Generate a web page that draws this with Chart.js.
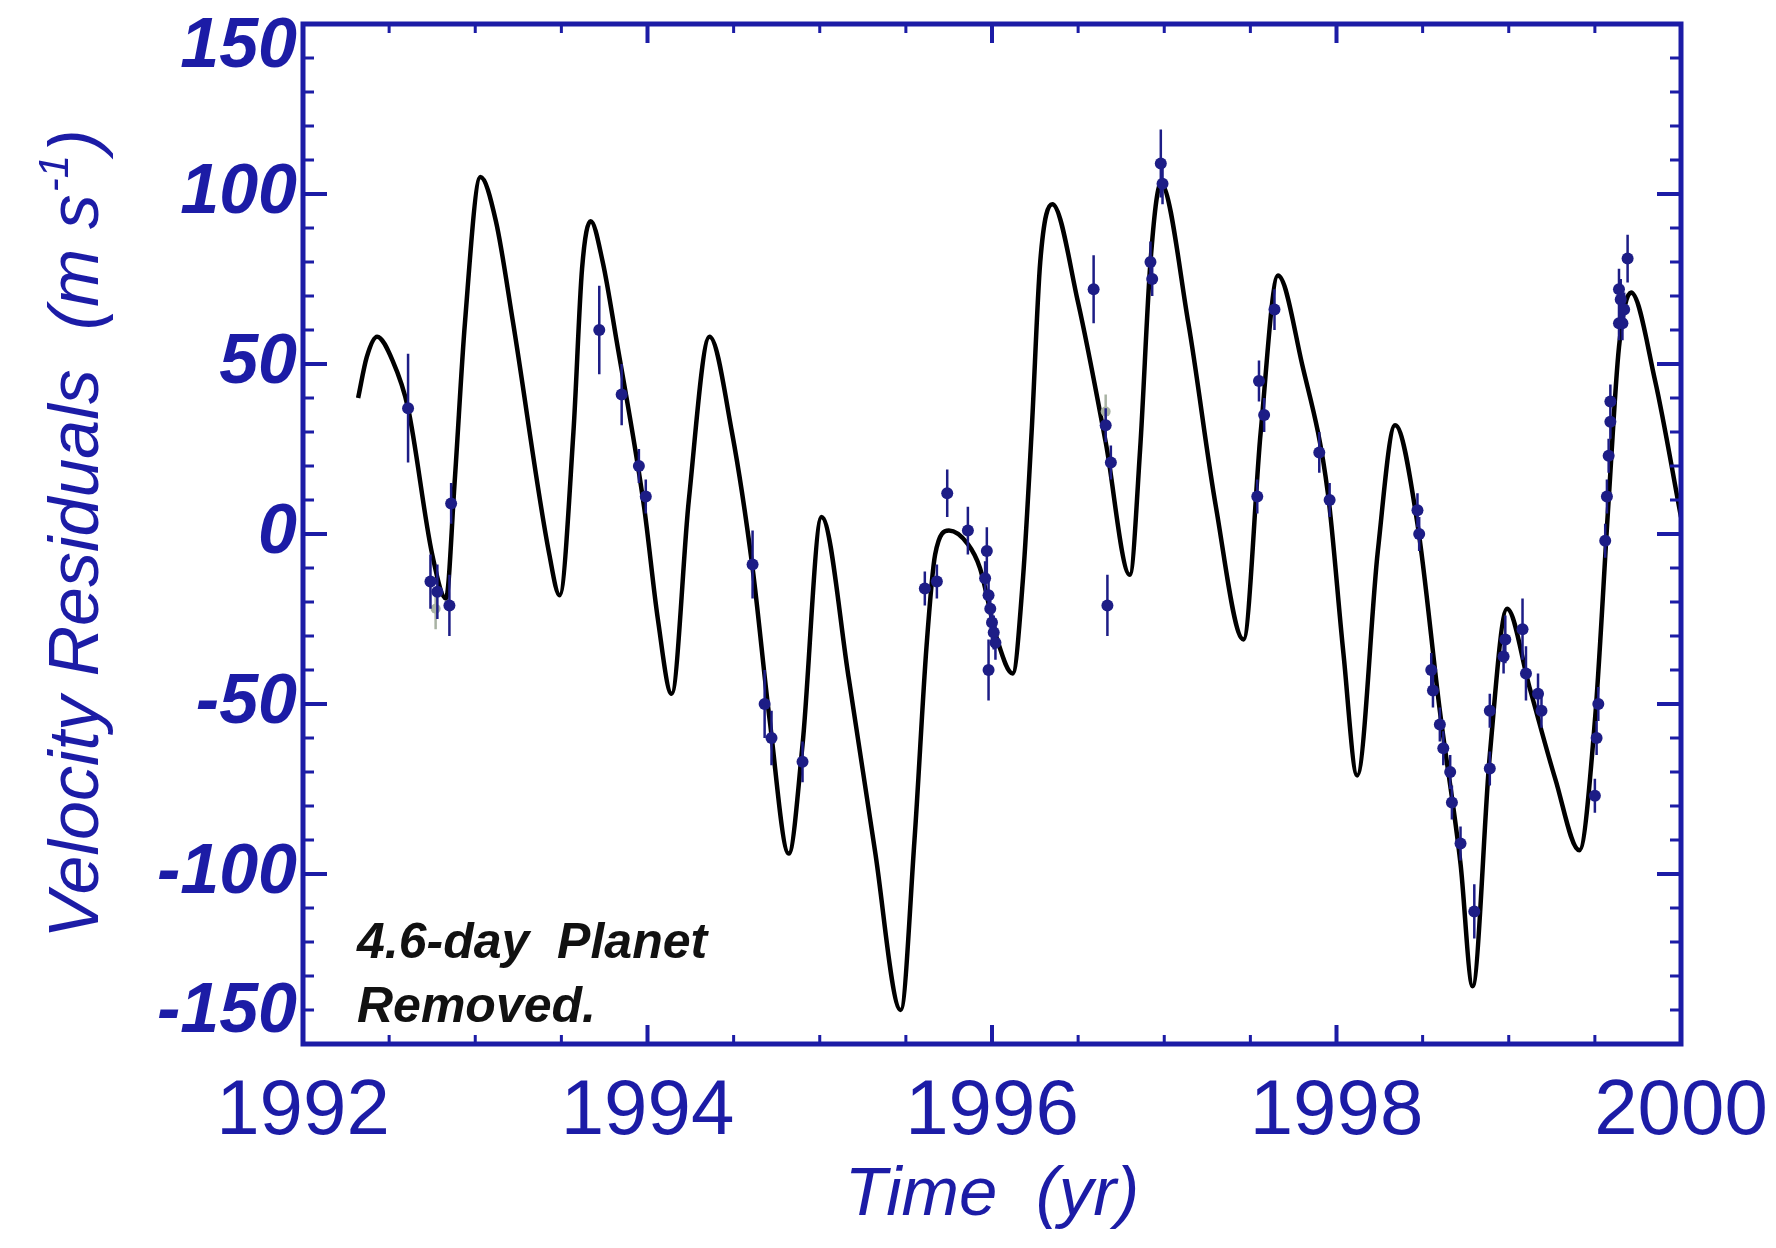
<!DOCTYPE html>
<html>
<head>
<meta charset="utf-8">
<title>Velocity residuals</title>
<script src="https://cdn.jsdelivr.net/npm/chart.js@4.4.1/dist/chart.umd.min.js"></script>
<style>
    html, body { margin: 0; padding: 0; background: #ffffff; }
    #chartWrap { width: 1776px; height: 1248px; }
</style>
</head>
<body>
<div id="chartWrap"><canvas id="chartResiduals" width="1776" height="1248"></canvas></div>
<script>
// fitted orbit curve (two remaining planets)
var fitTime = [1992.32, 1992.37, 1992.43, 1992.52, 1992.61, 1992.75, 1992.83, 1992.88, 1992.94, 1993.03,
    1993.12, 1993.22, 1993.43, 1993.49, 1993.57, 1993.62, 1993.67, 1993.74, 1993.82, 1993.98,
    1994.06, 1994.14, 1994.24, 1994.36, 1994.49, 1994.61, 1994.71, 1994.82, 1994.90, 1995.01,
    1995.17, 1995.32, 1995.47, 1995.55, 1995.62, 1995.67, 1995.75, 1995.86, 1995.93, 1996.03,
    1996.12, 1996.18, 1996.23, 1996.28, 1996.35, 1996.50, 1996.66, 1996.80, 1996.86, 1996.92,
    1996.98, 1997.14, 1997.30, 1997.46, 1997.56, 1997.66, 1997.80, 1997.95, 1998.04, 1998.12,
    1998.24, 1998.34, 1998.47, 1998.60, 1998.72, 1998.79, 1998.89, 1998.99, 1999.12, 1999.27,
    1999.41, 1999.50, 1999.58, 1999.64, 1999.71, 1999.85, 2000.00];
var fitVel = [40, 52, 58, 51, 37, -6, -19, 15, 62, 105,
    92, 62, -6, -18, 30, 78, 92, 80, 57, 8,
    -25, -47, 10, 58, 30, -10, -55, -94, -62, 5,
    -43, -93, -140, -90, -33, -6, 1, -3, -10, -31,
    -41, -13, 30, 80, 97, 68, 27, -12, 25, 80,
    103, 62, 8, -31, 30, 76, 50, 12, -35, -71,
    -5, 32, 3, -52, -97, -133, -65, -22, -45, -72,
    -93, -55, 10, 55, 71, 45, 5];

// measured residuals with 1-sigma errors
var obsTime = [1992.61, 1992.74, 1992.78, 1992.85, 1992.86, 1993.72, 1993.85, 1993.95, 1993.99, 1994.61,
    1994.68, 1994.72, 1994.90, 1995.61, 1995.68, 1995.74, 1995.86, 1995.97, 1995.96, 1995.98,
    1995.99, 1996.00, 1996.01, 1996.02, 1995.98, 1996.59, 1996.66, 1996.69, 1996.67, 1996.98,
    1996.99, 1996.92, 1996.93, 1997.54, 1997.55, 1997.58, 1997.64, 1997.90, 1997.96, 1998.47,
    1998.48, 1998.55, 1998.56, 1998.60, 1998.62, 1998.66, 1998.67, 1998.72, 1998.80, 1998.89,
    1998.89, 1998.97, 1998.98, 1999.08, 1999.10, 1999.17, 1999.19, 1999.50, 1999.51, 1999.52,
    1999.56, 1999.57, 1999.58, 1999.59, 1999.59, 1999.64, 1999.65, 1999.64, 1999.69, 1999.67,
    1999.66];
var obsVel = [37, -14, -17, -21, 9, 60, 41, 20, 11, -9,
    -50, -60, -67, -16, -14, 12, 1, -5, -13, -18,
    -22, -26, -29, -32, -40, 72, 32, 21, -21, 109,
    103, 80, 75, 11, 45, 35, 66, 24, 10, 7,
    0, -40, -46, -56, -63, -70, -79, -91, -111, -69,
    -52, -36, -31, -28, -41, -47, -52, -77, -60, -50,
    -2, 11, 23, 33, 39, 62, 69, 72, 81, 66,
    62];
var obsErr = [16, 8, 8, 9, 6, 13, 9, 5, 5, 10,
    10, 8, 6, 5, 5, 7, 7, 7, 5, 5,
    5, 5, 5, 5, 9, 10, 5, 5, 9, 10,
    6, 6, 5, 5, 6, 5, 6, 6, 5, 5,
    5, 5, 5, 5, 5, 5, 5, 5, 8, 5,
    5, 5, 7, 9, 8, 6, 5, 5, 5, 5,
    5, 5, 5, 5, 5, 5, 6, 6, 7, 5,
    5];

// a few points from the second (grey) set
var altTime = [1992.77, 1996.66];
var altVel = [-22, 36];
var altErr = [6, 5];

var xTickYears = [1992, 1994, 1996, 1998, 2000];
var xMinorStep = 0.5;
var yTickLabels = [150, 100, 50, 0, -50, -100, -150];
var yMinorStep = 10;

var axisBlue = '#1c1ca6';
var dotBlue = '#1d1d86';
var altGrey = '#a9b3a4';
var fontFamily = '"Liberation Sans", Arial, Helvetica, sans-serif';

var toPoints = function (xs, ys) {
    var pts = [];
    for (var i = 0; i < xs.length; i++) {
        pts.push({x: xs[i], y: ys[i]});
    }
    return pts;
};

// each bar is two points followed by a gap
var toErrorBars = function (xs, ys, es) {
    var pts = [];
    for (var i = 0; i < xs.length; i++) {
        pts.push({x: xs[i], y: ys[i] - es[i]});
        pts.push({x: xs[i], y: ys[i] + es[i]});
        pts.push({x: xs[i], y: null});
    }
    return pts;
};

var plotFrame = {
    id: 'plotFrame',
    afterDatasetsDraw: function (chart) {
        var ctx = chart.ctx;
        var area = chart.chartArea;
        var sx = chart.scales.x;
        var sy = chart.scales.y;
        var i, n, v, p, len, major;

        ctx.save();
        ctx.strokeStyle = axisBlue;
        ctx.lineCap = 'butt';

        // ticks pointing inward, top and bottom
        n = Math.round((sx.max - sx.min) / xMinorStep);
        for (i = 0; i <= n; i++) {
            v = sx.min + i * xMinorStep;
            p = sx.getPixelForValue(v);
            major = xTickYears.indexOf(v) !== -1;
            len = major ? 19 : 9;
            ctx.lineWidth = major ? 4 : 3;
            ctx.beginPath();
            ctx.moveTo(p, area.bottom);
            ctx.lineTo(p, area.bottom - len);
            ctx.moveTo(p, area.top);
            ctx.lineTo(p, area.top + len);
            ctx.stroke();
        }

        // left and right
        n = Math.round((sy.max - sy.min) / yMinorStep);
        for (i = 0; i <= n; i++) {
            v = sy.min + i * yMinorStep;
            p = sy.getPixelForValue(v);
            major = yTickLabels.indexOf(v) !== -1;
            len = major ? 24 : 11;
            ctx.lineWidth = major ? 4 : 3;
            ctx.beginPath();
            ctx.moveTo(area.left, p);
            ctx.lineTo(area.left + len, p);
            ctx.moveTo(area.right, p);
            ctx.lineTo(area.right - len, p);
            ctx.stroke();
        }

        ctx.lineWidth = 5;
        ctx.strokeRect(area.left, area.top, area.right - area.left, area.bottom - area.top);

        // y tick labels, end labels kept inside the frame
        ctx.fillStyle = axisBlue;
        ctx.font = 'italic bold 70px ' + fontFamily;
        ctx.textAlign = 'right';
        ctx.textBaseline = 'middle';
        for (i = 0; i < yTickLabels.length; i++) {
            p = sy.getPixelForValue(yTickLabels[i]);
            p = Math.min(Math.max(p, area.top + 24), area.bottom - 31);
            ctx.fillText(String(yTickLabels[i]), area.left - 6, p);
        }

        // y axis title with superscript unit
        var mainText = 'Velocity Residuals  (m s';
        var supText = '-1';
        var closeText = ')';
        ctx.font = 'italic 70px ' + fontFamily;
        var wMain = ctx.measureText(mainText).width;
        var wClose = ctx.measureText(closeText).width;
        ctx.font = 'italic 42px ' + fontFamily;
        var wSup = ctx.measureText(supText).width;
        var total = wMain + wSup + wClose + 4;
        ctx.save();
        ctx.translate(98, (area.top + area.bottom) / 2);
        ctx.rotate(-Math.PI / 2);
        ctx.textAlign = 'left';
        ctx.textBaseline = 'alphabetic';
        ctx.font = 'italic 70px ' + fontFamily;
        ctx.fillText(mainText, -total / 2, 0);
        ctx.font = 'italic 42px ' + fontFamily;
        ctx.fillText(supText, -total / 2 + wMain + 2, -30);
        ctx.font = 'italic 70px ' + fontFamily;
        ctx.fillText(closeText, -total / 2 + wMain + wSup + 4, 0);
        ctx.restore();

        // annotation
        ctx.fillStyle = '#111111';
        ctx.font = 'italic bold 50px ' + fontFamily;
        ctx.textAlign = 'left';
        ctx.textBaseline = 'alphabetic';
        ctx.fillText('4.6-day  Planet', area.left + 54, area.bottom - 86);
        ctx.fillText('Removed.', area.left + 54, area.bottom - 22);

        ctx.restore();
    }
};

var ctx = document.getElementById('chartResiduals');

var myChart = new Chart(ctx, {
    type: 'line',
    data: {
        datasets: [
            {
                label: 'Residuals',
                type: 'scatter',
                data: toPoints(obsTime, obsVel),
                backgroundColor: dotBlue,
                borderColor: dotBlue,
                pointRadius: 6,
                pointBorderWidth: 0,
                order: 0
            },
            {
                label: 'Errors',
                data: toErrorBars(obsTime, obsVel, obsErr),
                borderColor: dotBlue,
                borderWidth: 2.5,
                pointRadius: 0,
                tension: 0,
                spanGaps: false,
                order: 1
            },
            {
                label: 'Second set',
                type: 'scatter',
                data: toPoints(altTime, altVel),
                backgroundColor: altGrey,
                borderColor: altGrey,
                pointRadius: 5,
                pointBorderWidth: 0,
                order: 2
            },
            {
                label: 'Second set errors',
                data: toErrorBars(altTime, altVel, altErr),
                borderColor: altGrey,
                borderWidth: 2.5,
                pointRadius: 0,
                tension: 0,
                spanGaps: false,
                order: 3
            },
            {
                label: 'Fit',
                data: toPoints(fitTime, fitVel),
                borderColor: '#000000',
                borderWidth: 4.5,
                pointRadius: 0,
                fill: false,
                cubicInterpolationMode: 'monotone',
                order: 4
            }
        ]
    },
    options: {
        responsive: false,
        animation: false,
        devicePixelRatio: 1,
        layout: {
            padding: {top: 24, right: 95, left: 0, bottom: 0}
        },
        plugins: {
            legend: {display: false},
            tooltip: {enabled: false}
        },
        scales: {
            x: {
                type: 'linear',
                min: 1992,
                max: 2000,
                grid: {display: false, drawTicks: false},
                border: {display: false},
                ticks: {
                    stepSize: 2,
                    autoSkip: false,
                    maxRotation: 0,
                    padding: 22,
                    color: axisBlue,
                    font: {family: fontFamily, size: 78},
                    callback: function (value) {
                        return xTickYears.indexOf(value) !== -1 ? String(value) : '';
                    }
                },
                title: {
                    display: true,
                    text: 'Time  (yr)',
                    color: axisBlue,
                    font: {family: fontFamily, size: 69, style: 'italic'},
                    padding: {top: 0, bottom: 11}
                },
                afterFit: function (scale) {
                    scale.height = 204;
                    // labels at the ends may hang past the frame
                    scale.paddingLeft = 0;
                    scale.paddingRight = 0;
                }
            },
            y: {
                type: 'linear',
                min: -150,
                max: 150,
                grid: {display: false, drawTicks: false},
                border: {display: false},
                ticks: {display: false},
                afterFit: function (scale) {
                    scale.width = 303;
                }
            }
        }
    },
    plugins: [plotFrame]
});
</script>
</body>
</html>
